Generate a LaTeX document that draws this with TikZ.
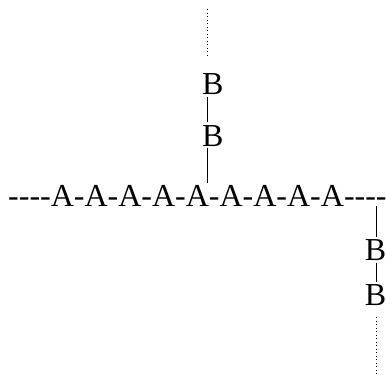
\documentclass[tikz,border=0pt]{standalone}
\usepackage{fontspec}
\setmainfont{Liberation Serif}[Ligatures=TeXOff]
\begin{document}
\begin{tikzpicture}[x=1pt, y=1pt,
  lbl/.style={inner sep=0pt, text height=21.2pt, text depth=0pt,
              font=\fontsize{32}{38}\selectfont, anchor=base west},
  bond/.style={line width=1.5pt},
  hint/.style={line width=1.1pt, dash pattern=on 1pt off 2.5pt}]
  \useasboundingbox (0,0) rectangle (386,-375);

  % backbone
  \node[lbl] (chain) at (8,-206) {----A-A-A-A-A-A-A-A-A----};

  % upper side chain
  \node[lbl] (tb1) at (201.8,-94) {B};
  \node[lbl] (tb2) at (201.8,-146) {B};

  % lower side chain
  \node[lbl] (rb1) at (364.6,-260.5) {B};
  \node[lbl] (rb2) at (364.6,-305) {B};

  % bond columns and open ends
  \coordinate (tx) at (207.7,0);
  \coordinate (rx) at (376.5,0);
  \coordinate (topend) at (207.7,-9);
  \coordinate (botend) at (376.5,-378);

  \draw[bond, shorten <=3pt, shorten >=2.8pt] (tb1.south -| tx) -- (tb2.north -| tx);
  \draw[bond, shorten <=2pt, shorten >=1.8pt] (tb2.south -| tx) -- (chain.north -| tx);
  \draw[bond, shorten >=2pt] (chain.south -| rx) -- (rb1.north -| rx);
  \draw[bond, shorten <=2.5pt, shorten >=1.5pt] (rb1.south -| rx) -- (rb2.north -| rx);

  \draw[hint, shorten >=17.8pt] (topend) -- (tb1.north -| topend);
  \draw[hint, shorten <=12pt] (rb2.south -| botend) -- (botend);
\end{tikzpicture}
\end{document}
